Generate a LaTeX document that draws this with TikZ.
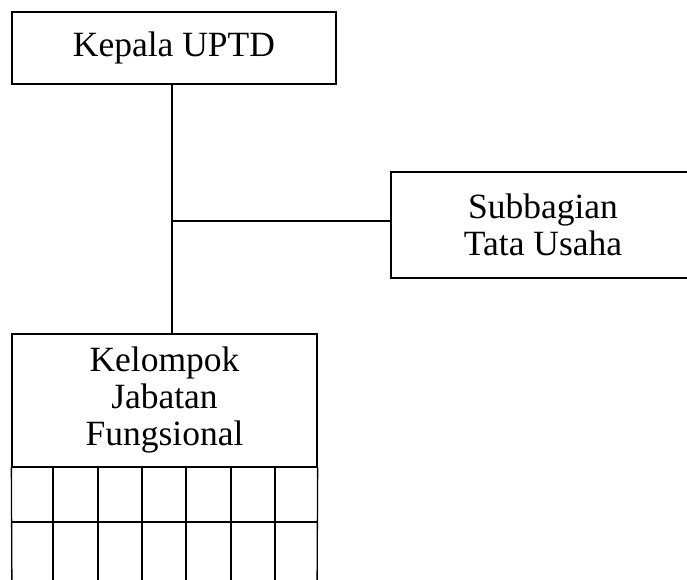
\documentclass[tikz,border=0pt]{standalone}
\usepackage{fontspec}
\setmainfont{Liberation Serif}
\begin{document}
\begin{tikzpicture}[x=1pt,y=-1pt,
  box/.style={draw,line width=1.3pt,inner sep=0pt,align=center,font=\fontsize{35.5}{37}\selectfont},
  line/.style={line width=1.3pt}]
\useasboundingbox (0,0) rectangle (687,580);
\clip (0,0) rectangle (687,580);
\node[box,minimum width=324pt,minimum height=72pt] (kepala) at (174,48) {Kepala UPTD};
\node[box,minimum width=304pt,minimum height=106pt] (sub) at (543,225) {Subbagian\\Tata Usaha};
\node[box,minimum width=305pt,minimum height=133pt] (kjf) at (164.5,400.5) {Kelompok\\Jabatan\\Fungsional};
\coordinate (v) at (172,334);
\coordinate (h) at (0,221);
\draw[line] (kepala.south -| v) -- (v);
\draw[line] (v |- h) -- (sub.west |- h);
% grid below
\draw[line] (kjf.south west) -- (12,600);
\draw[line] (kjf.south east) -- (317,600);
\foreach \x in {53,98,142,186,231,275}
  \draw[line] (\x,467) -- (\x,600);
\draw[line] (12,522) -- (317,522);
\end{tikzpicture}
\end{document}
